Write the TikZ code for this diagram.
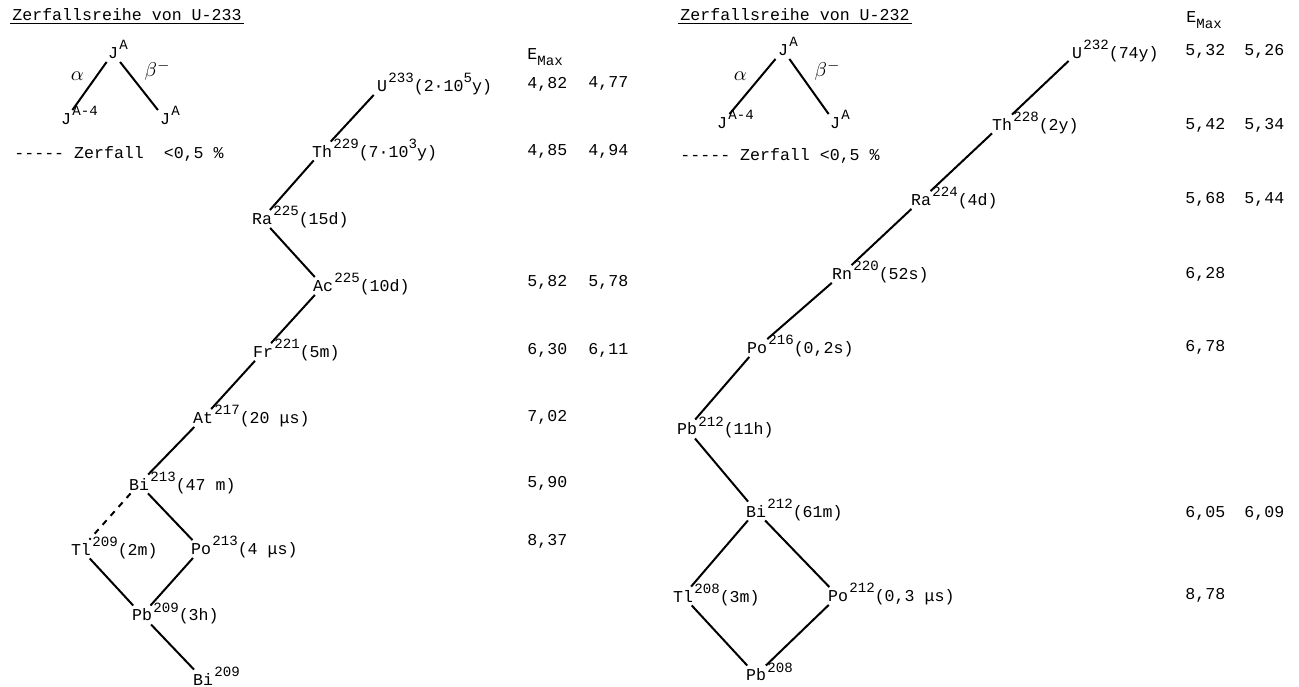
\documentclass[tikz,border=0pt]{standalone}
\usepackage{fontspec}
\usepackage{graphicx}
\setmonofont{Liberation Mono}

\newcommand{\hoch}[1]{\raisebox{1ex}{\scalebox{0.85}{#1}}}
\newcommand{\tief}[1]{\raisebox{-0.7ex}{\scalebox{0.85}{#1}}}

\tikzset{
  schrift/.style={font=\ttfamily\fontsize{8.3}{10}\selectfont},
  nuk/.style={schrift, inner sep=1.5pt},
  rest/.style={schrift, anchor=base west, inner sep=0pt, xshift=-1.2pt},
  wert/.style={schrift, anchor=west, inner sep=0pt},
  titel/.style={schrift, anchor=west, inner sep=1pt},
  zerf/.style={line width=1pt},
}

\begin{document}
\begin{tikzpicture}[x=0.5pt, y=-0.5pt]
    \useasboundingbox (0,0) rectangle (1299,686);

    % Ueberschriften
    \node[titel] (t233) at (10,15) {Zerfallsreihe von U-233};
    \draw (t233.south west) -- (t233.south east);
    \node[titel] (t232) at (678,15) {Zerfallsreihe von U-232};
    \draw (t232.south west) -- (t232.south east);

    % Legende links
    \node[nuk] (lo) at (113,53) {J};
    \node[rest] (loA) at (lo.base east) {\hoch{A}};
    \node[nuk] (la) at (66,119) {J};
    \node[rest] (laA) at (la.base east) {\hoch{A-4}};
    \node[nuk] (lb) at (165,119) {J};
    \node[rest] (lbA) at (lb.base east) {\hoch{A}};
    \draw[zerf] (lo) -- node[above left=-1pt] {$\alpha$} (la);
    \draw[zerf] (lo) -- node[above right=-1pt] {$\beta^-$} (lb);
    \node[titel] (lz) at (12,154) {----- Zerfall~ <0,5 \%};

    % Legende rechts
    \node[nuk] (ro) at (783,50) {J};
    \node[rest] (roA) at (ro.base east) {\hoch{A}};
    \node[nuk] (ra) at (722,123) {J};
    \node[rest] (raA) at (ra.base east) {\hoch{A-4}};
    \node[nuk] (rb) at (835,123) {J};
    \node[rest] (rbA) at (rb.base east) {\hoch{A}};
    \draw[zerf] (ro) -- node[above left=-1pt] {$\alpha$} (ra);
    \draw[zerf] (ro) -- node[above right=-1pt] {$\beta^-$} (rb);
    \node[titel] (rz) at (678,156) {----- Zerfall <0,5 \%};

    % Zerfallsreihe U-233
    \node[nuk] (u233) at (382,86) {U};
    \node[rest] at (u233.base east) {\hoch{233}(2·10\hoch{5}y)};
    \node[nuk] (th229) at (322,151) {Th};
    \node[rest] at (th229.base east) {\hoch{229}(7·10\hoch{3}y)};
    \node[nuk] (ra225) at (262,219) {Ra};
    \node[rest] at (ra225.base east) {\hoch{225}(15d)};
    \node[nuk] (ac225) at (323,286) {Ac};
    \node[rest] at (ac225.base east) {\hoch{225}(10d)};
    \node[nuk] (fr221) at (263,352) {Fr};
    \node[rest] at (fr221.base east) {\hoch{221}(5m)};
    \node[nuk] (at217) at (203,418) {At};
    \node[rest] at (at217.base east) {\hoch{217}(20 μs)};
    \node[nuk] (bi213) at (139,484) {Bi};
    \node[rest] at (bi213.base east) {\hoch{213}(47 m)};
    \node[nuk] (tl209) at (81,549) {Tl};
    \node[rest] at (tl209.base east) {\hoch{209}(2m)};
    \node[nuk] (po213) at (201,549) {Po};
    \node[rest] at (po213.base east) {\hoch{213}(4 μs)};
    \node[nuk] (pb209) at (142,615) {Pb};
    \node[rest] at (pb209.base east) {\hoch{209}(3h)};
    \node[nuk] (bi209) at (203,679) {Bi};
    \node[rest] at (bi209.base east) {\hoch{209}};

    \draw[zerf] (u233) -- (th229);
    \draw[zerf] (th229) -- (ra225);
    \draw[zerf] (ra225) -- (ac225);
    \draw[zerf] (ac225) -- (fr221);
    \draw[zerf] (fr221) -- (at217);
    \draw[zerf] (at217) -- (bi213);
    \draw[zerf, dashed] (bi213) -- (tl209);
    \draw[zerf] (bi213) -- (po213);
    \draw[zerf] (tl209) -- (pb209);
    \draw[zerf] (po213) -- (pb209);
    \draw[zerf] (pb209) -- (bi209);

    % Zerfallsreihe U-232
    \node[nuk] (u232) at (1077,53) {U};
    \node[rest] at (u232.base east) {\hoch{232}(74y)};
    \node[nuk] (th228) at (1002,124) {Th};
    \node[rest] at (th228.base east) {\hoch{228}(2y)};
    \node[nuk] (ra224) at (921,200) {Ra};
    \node[rest] at (ra224.base east) {\hoch{224}(4d)};
    \node[nuk] (rn220) at (842,274) {Rn};
    \node[rest] at (rn220.base east) {\hoch{220}(52s)};
    \node[nuk] (po216) at (757,348) {Po};
    \node[rest] at (po216.base east) {\hoch{216}(0,2s)};
    \node[nuk] (pb212) at (687,429) {Pb};
    \node[rest] at (pb212.base east) {\hoch{212}(11h)};
    \node[nuk] (bi212) at (756,511) {Bi};
    \node[rest] at (bi212.base east) {\hoch{212}(61m)};
    \node[nuk] (tl208) at (683,596) {Tl};
    \node[rest] at (tl208.base east) {\hoch{208}(3m)};
    \node[nuk] (po212) at (838,596) {Po};
    \node[rest] at (po212.base east) {\hoch{212}(0,3 μs)};
    \node[nuk] (pb208) at (756,675) {Pb};
    \node[rest] at (pb208.base east) {\hoch{208}};

    \draw[zerf] (u232) -- (th228);
    \draw[zerf] (th228) -- (ra224);
    \draw[zerf] (ra224) -- (rn220);
    \draw[zerf] (rn220) -- (po216);
    \draw[zerf] (po216) -- (pb212);
    \draw[zerf] (pb212) -- (bi212);
    \draw[zerf] (bi212) -- (tl208);
    \draw[zerf] (bi212) -- (po212);
    \draw[zerf] (tl208) -- (pb208);
    \draw[zerf] (po212) -- (pb208);

    % Energien E_Max
    \node[wert] (emaxl) at (527,57) {E\tief{Max}};
    \foreach \y/\a/\b in {84/{4,82}/{4,77}, 151/{4,85}/{4,94}, 282/{5,82}/{5,78},
                          350/{6,30}/{6,11}, 417/{7,02}/{}, 483/{5,90}/{}, 541/{8,37}/{}}
        {\node[wert] (el\y) at (527,\y) {\a};
         \node[wert] (fl\y) at (588,\y) {\b};}

    \node[wert] (emaxr) at (1186,20) {E\tief{Max}};
    \foreach \y/\a/\b in {51/{5,32}/{5,26}, 125/{5,42}/{5,34}, 199/{5,68}/{5,44},
                          274/{6,28}/{}, 347/{6,78}/{}, 513/{6,05}/{6,09}, 595/{8,78}/{}}
        {\node[wert] (er\y) at (1185,\y) {\a};
         \node[wert] (fr\y) at (1244,\y) {\b};}
\end{tikzpicture}
\end{document}
